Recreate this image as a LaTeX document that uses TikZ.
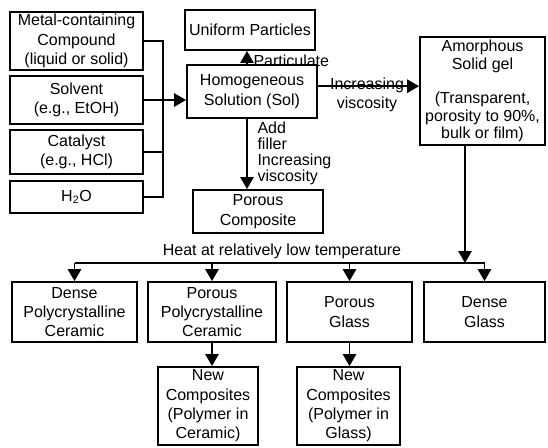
\documentclass[tikz,border=0pt]{standalone}
\usepackage{fontspec}
\setmainfont{Liberation Sans}
\usepackage{tikz}
\usetikzlibrary{arrows.meta}
\tikzset{every picture/.style={line width=0.75pt}}

\begin{document}
\begin{tikzpicture}[x=0.75pt,y=0.75pt,yscale=-1,xscale=1,
	blk/.style={draw, line width=1.4pt, align=center, inner sep=0pt, font=\fontsize{12}{14.5}\selectfont},
	lbl/.style={inner sep=0pt, font=\fontsize{12}{12}\selectfont},
	wire/.style={line width=1.4pt},
	arr/.style={line width=1.4pt, -{Triangle[length=9pt,width=10pt]}}]
		\useasboundingbox (0,0) rectangle (548,447); %set diagram to 548 x 447
		
		%Shape: Rectangle [id:metal] 
		\node (metal) at (76.5,41) [blk, minimum width=99.75pt, minimum height=43.5pt] {Metal-containing\\Compound\\(liquid or solid)};
		%Shape: Rectangle [id:solvent] 
		\node (solvent) at (76.5,100) [blk, minimum width=99.75pt, minimum height=36pt] {Solvent\\(e.g., EtOH)};
		%Shape: Rectangle [id:catalyst] 
		\node (catalyst) at (76.5,152) [blk, minimum width=99.75pt, minimum height=33pt] {Catalyst\\(e.g., HCl)};
		%Shape: Rectangle [id:water] 
		\node (water) at (76.5,197) [blk, minimum width=99.75pt, minimum height=24pt] {H\textsubscript{2}O};
		
		%Shape: Rectangle [id:homog] 
		\node (homog) at (252,91.5) [blk, minimum width=97.5pt, minimum height=39.75pt] {Homogeneous\\Solution (Sol)};
		%Shape: Rectangle [id:uniform] 
		\node (uniform) at (250,30) [blk, minimum width=97.5pt, minimum height=30pt] {Uniform Particles};
		%Shape: Rectangle [id:porcomp] 
		\node (porcomp) at (258,211.5) [blk, minimum width=97.5pt, minimum height=32.25pt] {Porous\\Composite};
		%Shape: Rectangle [id:amorph] 
		\node (amorph) at (482.5,91) [blk, font=\fontsize{12}{13}\selectfont, minimum width=93.75pt, minimum height=81pt] {Amorphous\\Solid gel\\[13pt](Transparent,\\porosity to 90\%,\\bulk or film)};
		
		%Shape: Rectangle [id:dpoly] 
		\node (dpoly) at (74.5,312) [blk, minimum width=93.75pt, minimum height=45pt] {Dense\\Polycrystalline\\Ceramic};
		%Shape: Rectangle [id:ppoly] 
		\node (ppoly) at (212,312) [blk, minimum width=96pt, minimum height=45pt] {Porous\\Polycrystalline\\Ceramic};
		%Shape: Rectangle [id:pglass] 
		\node (pglass) at (349.5,312) [blk, minimum width=93.75pt, minimum height=45pt] {Porous\\Glass};
		%Shape: Rectangle [id:dglass] 
		\node (dglass) at (484.5,312) [blk, minimum width=90.75pt, minimum height=45pt] {Dense\\Glass};
		%Shape: Rectangle [id:ncer] 
		\node (ncer) at (208,406) [blk, minimum width=75pt, minimum height=58.5pt] {New\\Composites\\(Polymer in\\Ceramic)};
		%Shape: Rectangle [id:nglass] 
		\node (nglass) at (348.5,406) [blk, minimum width=77.25pt, minimum height=58.5pt] {New\\Composites\\(Polymer in\\Glass)};
		
		%Straight Lines [id:bus] 
		\coordinate (bus) at (163,0);
		\coordinate (stem) at (247,0);
		\coordinate (heat) at (465,263);
		\draw [wire] (metal.east) -- (metal.east -| bus) -- (water.east -| bus) -- (water.east);
		\draw [wire] (catalyst.east) -- (catalyst.east -| bus);
		\draw [arr] (solvent.east) -- (solvent.east -| homog.west);
		
		%Arrows from the sol
		\draw [arr] (homog.north -| stem) -- (uniform.south -| stem);
		\draw [arr] (homog.south -| stem) -- (porcomp.north -| stem);
		\draw [arr] ([yshift=-4pt]homog.east) -- ([yshift=-4pt]homog.east -| amorph.west);
		
		%Heat line and drops
		\draw [arr] (amorph.south -| heat) -- (heat);
		\draw [wire] (dpoly.north |- heat) -- (dglass.north |- heat);
		\draw [arr] (dpoly.north |- heat) -- (dpoly.north);
		\draw [arr] (ppoly.north |- heat) -- (ppoly.north);
		\draw [arr] (pglass.north |- heat) -- (pglass.north);
		\draw [arr] (dglass.north |- heat) -- (dglass.north);
		\draw [arr] (ppoly.south) -- (ncer.north -| ppoly);
		\draw [arr] (pglass.south) -- (nglass.north -| pglass);
		
		% Text Node
		\node (particulate) at (253,61) [lbl, anchor=west] {Particulate};
		% Text Node
		\node (incr) at (367,85) [lbl] {Increasing};
		% Text Node
		\node (visc) at (367,104) [lbl] {viscosity};
		% Text Node
		\node (filler) at (257,153) [lbl, anchor=west, align=left] {Add\\filler\\Increasing\\viscosity};
		% Text Node
		\node (heatlbl) at (282,251) [lbl] {Heat at relatively low temperature};
		
\end{tikzpicture}
\end{document}
